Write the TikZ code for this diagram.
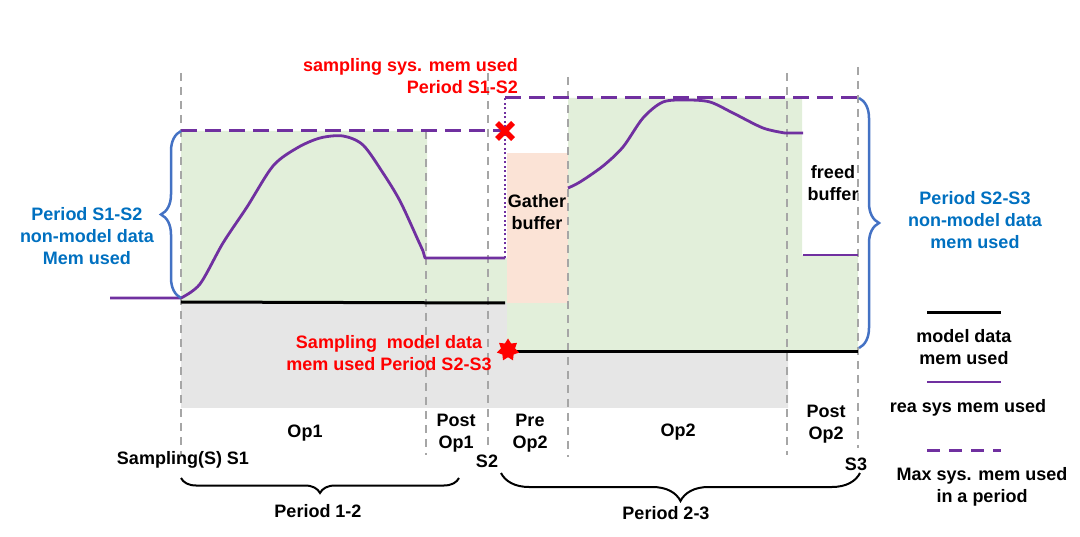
\documentclass[tikz,border=0pt]{standalone}
\usepackage{fontspec}
\setmainfont{Liberation Sans}
\usetikzlibrary{shapes.geometric,decorations.pathreplacing}
\definecolor{pur}{HTML}{7030A0}
\definecolor{grn}{HTML}{E2EFDA}
\definecolor{pch}{HTML}{FBE3D6}
\definecolor{gry}{HTML}{E6E6E6}
\definecolor{vline}{HTML}{A6A6A6}
\definecolor{bl}{HTML}{4472C4}
\definecolor{bltxt}{HTML}{0070C0}
\definecolor{rd}{HTML}{FF0000}
\begin{document}
\begin{tikzpicture}[x=1pt,y=-1pt,
  lbl/.style={font=\fontsize{18}{22}\selectfont\bfseries, align=center, inner sep=0pt},
  redlbl/.style={lbl, text=rd},
  bluelbl/.style={lbl, text=bltxt},
  vdash/.style={draw=vline, line width=2pt, dash pattern=on 8pt off 6pt},
  real/.style={draw=pur, line width=2.8pt, line join=round},
  maxline/.style={draw=pur, line width=3pt, dash pattern=on 16pt off 8pt},
  model/.style={draw=black, line width=3pt},
  bbrace/.style={draw=bl, line width=2.5pt, decorate, decoration={brace, amplitude=#1}},
  kbrace/.style={draw=black, line width=2pt, decorate, decoration={brace, amplitude=#1}}]
\useasboundingbox (0,0) rectangle (1080,537);
% fills
\fill[gry] (181,303) -- (507,303) -- (507,352) -- (788,352) -- (788,408) -- (181,408) -- cycle;
\fill[grn] (181,131) -- (427,131) -- (427,258) -- (507,258) -- (507,303) -- (181,303) -- cycle;
\fill[grn] (507,303) rectangle (568,352);
\fill[pch] (507,153) rectangle (568,303);
\fill[grn] (568,98) -- (802,98) -- (802,255) -- (858,255) -- (858,352) -- (568,352) -- cycle;
% vertical dashed lines
\draw[vdash] (181,73) -- (181,455);
\draw[vdash] (426,131) -- (426,455);
\draw[vdash] (488,73) -- (488,448);
\draw[vdash] (568,77) -- (568,457);
\draw[vdash] (787,73) -- (787,455);
\draw[vdash] (858,67) -- (858,448);
% model data lines
\draw[model] (181,302) -- (505,303);
\draw[model] (516,352) -- (858,352);
% max lines
\draw[maxline] (181,131) -- (503,131);
\draw[maxline] (505,98) -- (858,98);
\draw[draw=pur, line width=2pt, dash pattern=on 2pt off 2.5pt] (505,258) -- (505,98);
% real sys mem curves
\draw[real] (110,298) -- (181,298) plot[smooth, tension=0.5] coordinates {(181,298) (200,284) (223,243) (247,207) (273,166) (297,148) (320,138) (343,136) (363,145) (383,173) (400,201) (418,240) (423,251)} -- (425,258) -- (505,258);
\draw[real] plot[smooth, tension=0.5] coordinates {(568,188) (580,182) (603,166) (623,147) (643,118) (663,102) (687,100) (710,102) (733,113) (763,128) (785,133)} -- (803,133);
\draw[real] (803,255) -- (858,255);
% markers
\draw[rd, line width=5.5pt] (497,123) -- (513,139) (513,123) -- (497,139);
\node[star, star points=7, star point ratio=1.6, fill=rd, minimum size=23pt, inner sep=0pt] (stm) at (508,350) {};
% braces
\draw[bbrace=20pt] (181,298) -- (181,131);
\draw[bbrace=20pt] (859,98) -- (859,348);
\draw[kbrace=15pt] (459,478) -- (181,478);
\draw[kbrace=28pt] (860,473) -- (501,473);
% texts
\node[redlbl, anchor=east, align=right] (t1) at (518,76) {sampling sys. mem used\\Period S1-S2};
\node[redlbl] (t2) at (389,353) {Sampling\ \ model data\\mem used Period S2-S3};
\node[bluelbl] (t3) at (87,236) {Period S1-S2\\non-model data\\Mem used};
\node[bluelbl] (t4) at (975,220) {Period S2-S3\\non-model data\\mem used};
\node[lbl] (gb) at (537,212) {Gather\\buffer};
\node[lbl] (fb) at (833,183) {freed\\buffer};
\node[lbl] (op1) at (305,433) {Op1};
\node[lbl] (pop1) at (456,433) {Post\\Op1};
\node[lbl] (preop2) at (530,433) {Pre\\Op2};
\node[lbl] (op2) at (678,432) {Op2};
\node[lbl] (pop2) at (826,424) {Post\\Op2};
\node[lbl] (s1) at (183,460) {Sampling(S) S1};
\node[lbl] (s2) at (487,461) {S2};
\node[lbl] (s3) at (856,464) {S3};
\node[lbl] (p12) at (318,511) {Period 1-2};
\node[lbl] (p23) at (666,513) {Period 2-3};
% legend
\draw[model] (927,313) -- (1001,313);
\node[lbl] (lg1) at (964,347) {model data\\mem used};
\draw[draw=pur, line width=2.8pt] (927,382) -- (1001,382);
\node[lbl] (lg2) at (968,408) {rea sys mem used};
\draw[draw=pur, line width=3pt, dash pattern=on 13pt off 9pt] (927,451) -- (1001,451);
\node[lbl] (lg3) at (982,487) {Max sys. mem used\\in a period};
\end{tikzpicture}
\end{document}
